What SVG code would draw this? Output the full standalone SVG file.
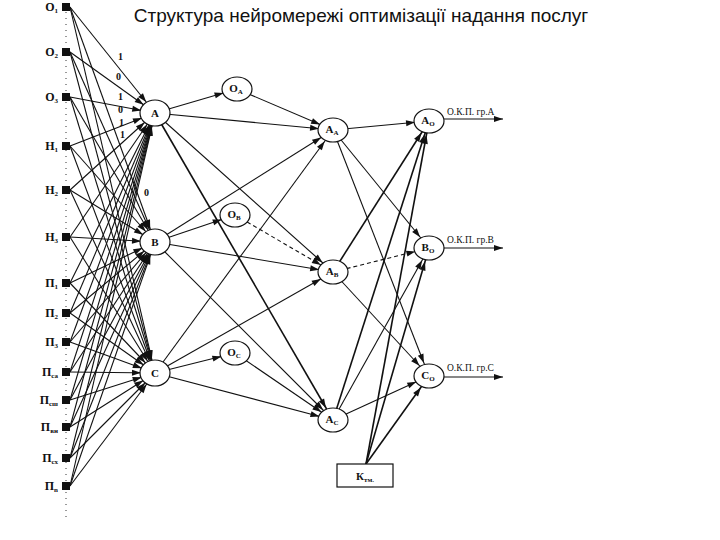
<svg xmlns="http://www.w3.org/2000/svg" width="720" height="540" viewBox="0 0 720 540">
<style>
.c{stroke:#111;stroke-width:1.1;fill:none;marker-end:url(#a)}
.k{stroke-width:1.6}
.o{stroke:#111;stroke-width:1.1;fill:none;marker-end:url(#b)}
.n{fill:#fff;stroke:#111;stroke-width:1.2}
.sq{fill:#111}
.lb{font-family:"Liberation Serif",serif;font-weight:bold;font-size:12px;fill:#111}
.nl{font-family:"Liberation Serif",serif;font-weight:bold;font-size:11px;fill:#111;text-anchor:middle}
.sub{font-size:7px}
.w{font-family:"Liberation Serif",serif;font-weight:bold;font-size:10px;fill:#111}
.ol{font-family:"Liberation Serif",serif;font-size:9.5px;fill:#111}
.title{font-family:"Liberation Sans",Arial,sans-serif;font-size:19px;fill:#111}
</style>
<defs>
<marker id="a" markerUnits="userSpaceOnUse" orient="auto" refX="23" refY="0" markerWidth="30" markerHeight="10" overflow="visible"><path d="M0,-3 L9,0 L0,3 z" fill="#111"/></marker>
<marker id="b" markerUnits="userSpaceOnUse" orient="auto" refX="9" refY="0" markerWidth="10" markerHeight="10" overflow="visible"><path d="M0,-3 L9,0 L0,3 z" fill="#111"/></marker>
</defs>
<rect width="720" height="540" fill="#fff"/>
<text class="title" x="361" y="22" text-anchor="middle">Структура нейромережі оптимізації надання послуг</text>
<line x1="66" y1="12" x2="66" y2="518" stroke="#333" stroke-width="1" stroke-dasharray="1,5"/>
<g id="connectors">
<line class="c" x1="70" y1="7" x2="155" y2="113"/><line class="c" x1="70" y1="7" x2="155" y2="242"/><line class="c" x1="70" y1="7" x2="155" y2="373"/>
<line class="c" x1="70" y1="52" x2="155" y2="113"/><line class="c" x1="70" y1="52" x2="155" y2="242"/><line class="c" x1="70" y1="52" x2="155" y2="373"/>
<line class="c" x1="70" y1="97" x2="155" y2="113"/><line class="c" x1="70" y1="97" x2="155" y2="242"/><line class="c" x1="70" y1="97" x2="155" y2="373"/>
<line class="c" x1="70" y1="146" x2="155" y2="113"/><line class="c" x1="70" y1="146" x2="155" y2="242"/><line class="c" x1="70" y1="146" x2="155" y2="373"/>
<line class="c" x1="70" y1="190" x2="155" y2="113"/><line class="c" x1="70" y1="190" x2="155" y2="242"/><line class="c" x1="70" y1="190" x2="155" y2="373"/>
<line class="c" x1="70" y1="237" x2="155" y2="113"/><line class="c" x1="70" y1="237" x2="155" y2="242"/><line class="c" x1="70" y1="237" x2="155" y2="373"/>
<line class="c" x1="70" y1="283" x2="155" y2="113"/><line class="c" x1="70" y1="283" x2="155" y2="242"/><line class="c" x1="70" y1="283" x2="155" y2="373"/>
<line class="c" x1="70" y1="313" x2="155" y2="113"/><line class="c" x1="70" y1="313" x2="155" y2="242"/><line class="c" x1="70" y1="313" x2="155" y2="373"/>
<line class="c" x1="70" y1="342" x2="155" y2="113"/><line class="c" x1="70" y1="342" x2="155" y2="242"/><line class="c" x1="70" y1="342" x2="155" y2="373"/>
<line class="c" x1="70" y1="372" x2="155" y2="113"/><line class="c" x1="70" y1="372" x2="155" y2="242"/><line class="c" x1="70" y1="372" x2="155" y2="373"/>
<line class="c" x1="70" y1="400" x2="155" y2="113"/><line class="c" x1="70" y1="400" x2="155" y2="242"/><line class="c" x1="70" y1="400" x2="155" y2="373"/>
<line class="c" x1="70" y1="427" x2="155" y2="113"/><line class="c" x1="70" y1="427" x2="155" y2="242"/><line class="c" x1="70" y1="427" x2="155" y2="373"/>
<line class="c" x1="70" y1="458" x2="155" y2="113"/><line class="c" x1="70" y1="458" x2="155" y2="242"/><line class="c" x1="70" y1="458" x2="155" y2="373"/>
<line class="c" x1="70" y1="486" x2="155" y2="113"/><line class="c" x1="70" y1="486" x2="155" y2="242"/><line class="c" x1="70" y1="486" x2="155" y2="373"/>
<line class="c" x1="155" y1="113" x2="237" y2="89"/><line class="c" x1="155" y1="113" x2="333" y2="130"/><line class="c" x1="155" y1="113" x2="333" y2="272"/><line class="c k" x1="155" y1="113" x2="333" y2="420"/>
<line class="c" x1="155" y1="242" x2="235" y2="215"/><line class="c" x1="155" y1="242" x2="333" y2="130"/><line class="c" x1="155" y1="242" x2="333" y2="272"/><line class="c" x1="155" y1="242" x2="333" y2="420"/>
<line class="c" x1="155" y1="373" x2="235" y2="353"/><line class="c" x1="155" y1="373" x2="333" y2="130"/><line class="c" x1="155" y1="373" x2="333" y2="272"/><line class="c" x1="155" y1="373" x2="333" y2="420"/>
<line class="c" x1="237" y1="89" x2="333" y2="130"/><line class="c" x1="235" y1="215" x2="333" y2="272" stroke-dasharray="4,3"/><line class="c" x1="235" y1="353" x2="333" y2="420"/>
<line class="c" x1="333" y1="130" x2="429" y2="121"/><line class="c" x1="333" y1="130" x2="429" y2="248"/><line class="c" x1="333" y1="130" x2="429" y2="376"/>
<line class="c k" x1="333" y1="272" x2="429" y2="121"/><line class="c" x1="333" y1="272" x2="429" y2="248" stroke-dasharray="4,3"/><line class="c" x1="333" y1="272" x2="429" y2="376"/>
<line class="c k" x1="333" y1="420" x2="429" y2="121"/><line class="c" x1="333" y1="420" x2="429" y2="248"/><line class="c" x1="333" y1="420" x2="429" y2="376"/>
<line class="c k" x1="366" y1="464" x2="429" y2="121"/><line class="c k" x1="366" y1="464" x2="429" y2="248"/><line class="c k" x1="366" y1="464" x2="429" y2="376"/>
<line class="o" x1="444" y1="119" x2="503" y2="119"/>
<line class="o" x1="444" y1="248" x2="503" y2="248"/>
<line class="o" x1="444" y1="377" x2="503" y2="377"/>
</g>
<g id="inputs">
<g id="in-o1"><rect class="sq" x="62" y="3" width="8" height="8"/><text class="lb" x="58" y="11" text-anchor="end">О<tspan class="sub" dy="2">1</tspan></text></g>
<g id="in-o2"><rect class="sq" x="62" y="48" width="8" height="8"/><text class="lb" x="58" y="56" text-anchor="end">О<tspan class="sub" dy="2">2</tspan></text></g>
<g id="in-o3"><rect class="sq" x="62" y="93" width="8" height="8"/><text class="lb" x="58" y="101" text-anchor="end">О<tspan class="sub" dy="2">3</tspan></text></g>
<g id="in-n1"><rect class="sq" x="62" y="142" width="8" height="8"/><text class="lb" x="58" y="150" text-anchor="end">Н<tspan class="sub" dy="2">1</tspan></text></g>
<g id="in-n2"><rect class="sq" x="62" y="186" width="8" height="8"/><text class="lb" x="58" y="194" text-anchor="end">Н<tspan class="sub" dy="2">2</tspan></text></g>
<g id="in-n3"><rect class="sq" x="62" y="233" width="8" height="8"/><text class="lb" x="58" y="241" text-anchor="end">Н<tspan class="sub" dy="2">3</tspan></text></g>
<g id="in-p1"><rect class="sq" x="62" y="279" width="8" height="8"/><text class="lb" x="58" y="287" text-anchor="end">П<tspan class="sub" dy="2">1</tspan></text></g>
<g id="in-p2"><rect class="sq" x="62" y="309" width="8" height="8"/><text class="lb" x="58" y="317" text-anchor="end">П<tspan class="sub" dy="2">2</tspan></text></g>
<g id="in-p3"><rect class="sq" x="62" y="338" width="8" height="8"/><text class="lb" x="58" y="346" text-anchor="end">П<tspan class="sub" dy="2">3</tspan></text></g>
<g id="in-pca"><rect class="sq" x="62" y="368" width="8" height="8"/><text class="lb" x="58" y="376" text-anchor="end">П<tspan class="sub" dy="2">са</tspan></text></g>
<g id="in-psh"><rect class="sq" x="62" y="396" width="8" height="8"/><text class="lb" x="58" y="404" text-anchor="end">П<tspan class="sub" dy="2">сш</tspan></text></g>
<g id="in-pvn"><rect class="sq" x="62" y="423" width="8" height="8"/><text class="lb" x="58" y="431" text-anchor="end">П<tspan class="sub" dy="2">вн</tspan></text></g>
<g id="in-psx"><rect class="sq" x="62" y="454" width="8" height="8"/><text class="lb" x="58" y="462" text-anchor="end">П<tspan class="sub" dy="2">сх</tspan></text></g>
<g id="in-pn"><rect class="sq" x="62" y="482" width="8" height="8"/><text class="lb" x="58" y="490" text-anchor="end">П<tspan class="sub" dy="2">n</tspan></text></g>
</g>
<g id="weights">
<text class="w" x="118" y="60">1</text><text class="w" x="116" y="80">0</text><text class="w" x="118" y="100">1</text><text class="w" x="118" y="113">0</text><text class="w" x="119" y="126">1</text><text class="w" x="120" y="138">1</text><text class="w" x="144" y="196">0</text>
</g>
<g id="node-A"><ellipse class="n" cx="155" cy="113" rx="15" ry="13"/><text class="nl" x="155" y="117">A</text></g>
<g id="node-B"><ellipse class="n" cx="155" cy="242" rx="15" ry="13"/><text class="nl" x="155" y="246">B</text></g>
<g id="node-C"><ellipse class="n" cx="155" cy="373" rx="15" ry="13"/><text class="nl" x="155" y="377">C</text></g>
<g id="node-OA"><ellipse class="n" cx="237" cy="89" rx="15" ry="12"/><text class="nl" x="236" y="92">О<tspan class="sub" dy="2">А</tspan></text></g>
<g id="node-OB"><ellipse class="n" cx="235" cy="215" rx="15" ry="12"/><text class="nl" x="234" y="218">О<tspan class="sub" dy="2">В</tspan></text></g>
<g id="node-OC"><ellipse class="n" cx="235" cy="353" rx="15" ry="12"/><text class="nl" x="234" y="356">О<tspan class="sub" dy="2">С</tspan></text></g>
<g id="node-AA"><ellipse class="n" cx="333" cy="130" rx="15" ry="12"/><text class="nl" x="332" y="133">А<tspan class="sub" dy="2">А</tspan></text></g>
<g id="node-AB"><ellipse class="n" cx="333" cy="272" rx="15" ry="12"/><text class="nl" x="332" y="275">А<tspan class="sub" dy="2">В</tspan></text></g>
<g id="node-AC"><ellipse class="n" cx="333" cy="420" rx="15" ry="12"/><text class="nl" x="332" y="423">А<tspan class="sub" dy="2">С</tspan></text></g>
<g id="node-AO"><ellipse class="n" cx="429" cy="121" rx="15" ry="12"/><text class="nl" x="428" y="124">А<tspan class="sub" dy="2">О</tspan></text></g>
<g id="node-BO"><ellipse class="n" cx="429" cy="248" rx="15" ry="12"/><text class="nl" x="428" y="251">В<tspan class="sub" dy="2">О</tspan></text></g>
<g id="node-CO"><ellipse class="n" cx="429" cy="376" rx="15" ry="12"/><text class="nl" x="428" y="379">С<tspan class="sub" dy="2">О</tspan></text></g>
<g id="node-K"><rect x="337" y="464" width="56" height="23" fill="#fff" stroke="#111" stroke-width="1.2"/><text class="nl" x="365" y="480">К<tspan class="sub" dy="2">тм.</tspan></text></g>
<g id="out-labels">
<text class="ol" x="447" y="115">О.К.П. гр.А</text>
<text class="ol" x="447" y="243">О.К.П. гр.В</text>
<text class="ol" x="447" y="371">О.К.П. гр.С</text>
</g>
</svg>
